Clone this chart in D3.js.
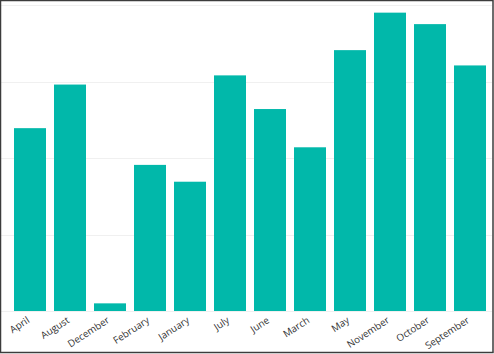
<!DOCTYPE html>
<html>
<head>
<meta charset="utf-8">
<script src="https://cdn.jsdelivr.net/npm/d3@7"></script>
<style>
  html, body { margin: 0; padding: 0; background: #fff; }
  svg { display: block; }
  .x-axis text { font-family: "Open Sans", sans-serif; font-size: 9.8px; fill: #333; }
</style>
</head>
<body>
<div id="chart"></div>
<script>
const WIDTH = 494, HEIGHT = 354

const months = ['April', 'August', 'December', 'February', 'January', 'July',
  'June', 'March', 'May', 'November', 'October', 'September']
const values = [239, 296, 10, 191, 169, 308, 264, 214, 341, 390, 375, 321]
const gridTicks = [0, 100, 200, 300, 400]

const svg = d3.select('#chart').append('svg')
  .attr('width', WIDTH)
  .attr('height', HEIGHT)

const x = d3.scaleBand().domain(months).range([10, 490])
  .paddingInner(0.2).paddingOuter(0.1)
const y = d3.scaleLinear().domain([0, 400]).range([311, 5])

// ── gridlines ────────────────────────────────────────────────
svg.append('g').attr('class', 'grid')
  .selectAll('line').data(gridTicks).join('line')
  .attr('x1', 1).attr('x2', 492)
  .attr('y1', d => Math.round(y(d)) + 0.5)
  .attr('y2', d => Math.round(y(d)) + 0.5)
  .attr('stroke', '#f0f0f0')
  .attr('stroke-width', 1)

// ── bars ─────────────────────────────────────────────────────
svg.append('g').attr('class', 'bars')
  .selectAll('rect').data(months).join('rect')
  .attr('x', d => x(d))
  .attr('y', (d, i) => y(values[i]))
  .attr('width', x.bandwidth())
  .attr('height', (d, i) => y(0) - y(values[i]))
  .attr('fill', '#01B8AA')

// ── x axis labels ────────────────────────────────────────────
const gx = svg.append('g').attr('class', 'x-axis')
  .attr('transform', `translate(0,${y(0)})`)
  .call(d3.axisBottom(x).tickSize(0).tickPadding(0))
gx.select('.domain').remove()
gx.selectAll('text')
  .attr('text-anchor', 'end')
  .attr('dy', '0.6em')
  .attr('transform', 'translate(-3,6) rotate(-33)')

// ── frame ────────────────────────────────────────────────────
svg.append('rect')
  .attr('x', 0.5).attr('y', 0.5)
  .attr('width', WIDTH - 1.5).attr('height', HEIGHT - 2)
  .attr('fill', 'none')
  .attr('stroke', '#3c3c3c')
  .attr('stroke-width', 1.5)
</script>
</body>
</html>
